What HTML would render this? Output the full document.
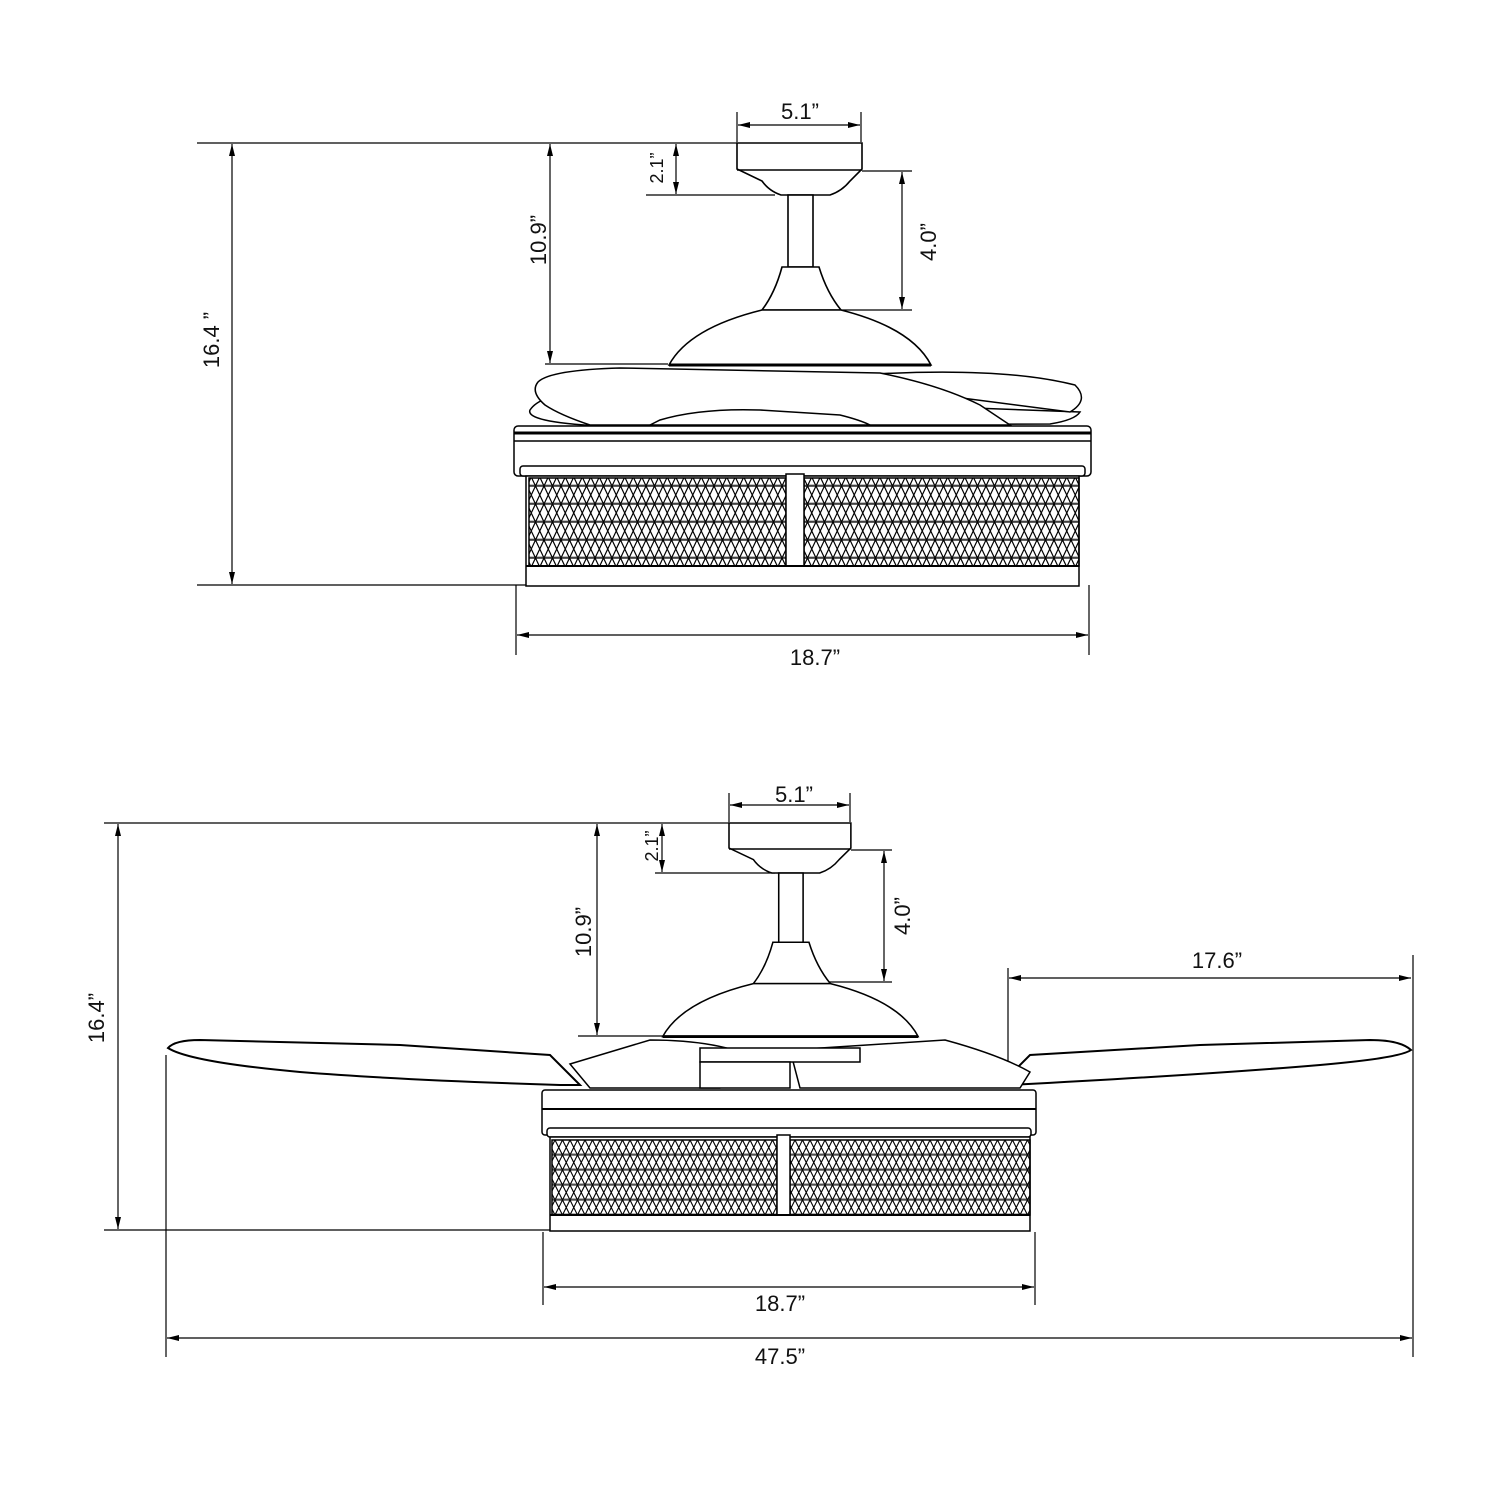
<!DOCTYPE html>
<html><head><meta charset="utf-8"><style>
html,body{margin:0;padding:0;background:#fff}
svg{display:block}
text{font-family:"Liberation Sans",Arial,sans-serif;fill:#111}
</style></head><body>
<svg width="1500" height="1500" viewBox="0 0 1500 1500" xmlns="http://www.w3.org/2000/svg">
<defs>
<marker id="a" viewBox="0 0 12 6" refX="12" refY="3" markerWidth="12" markerHeight="6" markerUnits="userSpaceOnUse" orient="auto-start-reverse"><path d="M0,0L12,3L0,6z" fill="#000"/></marker>
<pattern id="lt" width="17" height="18" patternUnits="userSpaceOnUse">
<path d="M0,18L8.5,0L17,18M0,0L8.5,18L17,0M0,0H17" stroke="#000" stroke-width="1.2" fill="none"/>
<path d="M0,17.2H17" stroke="#000" stroke-width="1"/>
</pattern>
<pattern id="lb" width="15" height="15" patternUnits="userSpaceOnUse">
<path d="M0,15L7.5,0L15,15M0,0L7.5,15L15,0M0,0H15" stroke="#000" stroke-width="1.1" fill="none"/>
<path d="M0,14.2H15" stroke="#000" stroke-width="1"/>
</pattern>
<g id="head" fill="#fff" stroke="#000" stroke-width="1.6">
<path d="M0,0H125V26L113,38Q105,48 93,52H44Q32,48 25,38L0,26Z"/>
<line x1="0" y1="27" x2="125" y2="27"/>
<rect x="51" y="52" width="25" height="72"/>
<path d="M45,124H82Q90,150 104,167H25Q38,150 45,124Z"/>
<path d="M25,167H104Q175,185 194,222H-68Q-48,185 25,167Z"/>
<line x1="-68" y1="222" x2="194" y2="222" stroke-width="3"/>
</g>
</defs>

<g stroke="#000" stroke-width="1.2" fill="none">
<line x1="737" y1="112" x2="737" y2="142"/><line x1="861" y1="112" x2="861" y2="142"/>
<line x1="738" y1="125" x2="860" y2="125" marker-start="url(#a)" marker-end="url(#a)"/>
<line x1="197" y1="143" x2="737" y2="143"/>
<line x1="232" y1="144" x2="232" y2="584" marker-start="url(#a)" marker-end="url(#a)"/>
<line x1="197" y1="585" x2="526" y2="585"/>
<line x1="550" y1="144" x2="550" y2="363" marker-start="url(#a)" marker-end="url(#a)"/>
<line x1="545" y1="364" x2="668" y2="364"/>
<line x1="676" y1="144" x2="676" y2="194" marker-start="url(#a)" marker-end="url(#a)"/>
<line x1="646" y1="195" x2="775" y2="195"/>
<line x1="862" y1="171" x2="912" y2="171"/>
<line x1="902" y1="172" x2="902" y2="309" marker-start="url(#a)" marker-end="url(#a)"/>
<line x1="835" y1="310" x2="912" y2="310"/>
<line x1="516" y1="585" x2="516" y2="655"/><line x1="1089" y1="585" x2="1089" y2="655"/>
<line x1="517" y1="635" x2="1088" y2="635" marker-start="url(#a)" marker-end="url(#a)"/>
</g>
<use href="#head" x="737" y="143"/>
<g stroke="#000" stroke-width="1.5" fill="#fff">
<path d="M530,410Q540,395 580,392L700,400Q900,405 1080,412Q1075,420 1050,424L600,426Q525,422 530,410Z"/>
<path d="M858,375Q1000,366 1075,385Q1090,400 1070,412Q980,400 900,390Q860,383 858,375Z"/>
<path d="M538,382Q550,370 620,368L880,373Q940,385 980,405L1010,425H590Q560,415 545,405Q530,392 538,382Z"/>
<path d="M660,420Q700,408 760,410L840,415Q860,420 870,425H650Z"/>
<rect x="514" y="426" width="577" height="50" rx="4"/>
<line x1="514" y1="433" x2="1091" y2="433" stroke-width="3"/>
<line x1="514" y1="441" x2="1091" y2="441"/>
<rect x="520" y="466" width="565" height="10" rx="3"/>
<rect x="526" y="476" width="553" height="110"/>
<rect x="529" y="478" width="257" height="88" fill="url(#lt)"/>
<rect x="804" y="478" width="275" height="88" fill="url(#lt)"/>
<rect x="786" y="474" width="18" height="92"/>
<line x1="526" y1="566" x2="1079" y2="566" stroke-width="2"/>
</g>

<g stroke="#000" stroke-width="1.2" fill="none">
<line x1="729" y1="793" x2="729" y2="822"/><line x1="850" y1="793" x2="850" y2="822"/>
<line x1="730" y1="805" x2="849" y2="805" marker-start="url(#a)" marker-end="url(#a)"/>
<line x1="104" y1="823" x2="729" y2="823"/>
<line x1="118" y1="824" x2="118" y2="1229" marker-start="url(#a)" marker-end="url(#a)"/>
<line x1="104" y1="1230" x2="552" y2="1230"/>
<line x1="597" y1="824" x2="597" y2="1035" marker-start="url(#a)" marker-end="url(#a)"/>
<line x1="578" y1="1036" x2="666" y2="1036"/>
<line x1="662" y1="824" x2="662" y2="872" marker-start="url(#a)" marker-end="url(#a)"/>
<line x1="655" y1="873" x2="775" y2="873"/>
<line x1="851" y1="850" x2="892" y2="850"/>
<line x1="884" y1="851" x2="884" y2="981" marker-start="url(#a)" marker-end="url(#a)"/>
<line x1="825" y1="982" x2="892" y2="982"/>
<line x1="1008" y1="968" x2="1008" y2="1062"/><line x1="1413" y1="955" x2="1413" y2="1357"/>
<line x1="1009" y1="978" x2="1411" y2="978" marker-start="url(#a)" marker-end="url(#a)"/>
<line x1="166" y1="1055" x2="166" y2="1357"/>
<line x1="167" y1="1338" x2="1412" y2="1338" marker-start="url(#a)" marker-end="url(#a)"/>
<line x1="543" y1="1232" x2="543" y2="1305"/><line x1="1035" y1="1232" x2="1035" y2="1305"/>
<line x1="544" y1="1287" x2="1034" y2="1287" marker-start="url(#a)" marker-end="url(#a)"/>
</g>
<use href="#head" transform="translate(729,823) scale(0.975,0.962)"/>
<g stroke="#000" stroke-width="1.5" fill="#fff">
<path d="M560,1085Q400,1080 300,1072Q190,1062 168,1048Q175,1040 200,1040L400,1045Q500,1052 550,1055L580,1085Z" stroke-width="2"/>
<path d="M570,1064L650,1040Q720,1040 760,1060L720,1088H590Z"/>
<path d="M1010,1085Q1200,1075 1320,1065Q1400,1058 1411,1050Q1400,1040 1370,1040L1200,1045Q1080,1052 1030,1055L1015,1070Z" stroke-width="2"/>
<path d="M790,1050L945,1040Q1000,1055 1030,1072L1020,1088H800Z"/>
<path d="M700,1048H860V1062H700Z"/>
<path d="M700,1062H790V1088H700Z"/>
<rect x="542" y="1090" width="494" height="45" rx="3"/>
<line x1="542" y1="1109" x2="1036" y2="1109" stroke-width="2"/>
<rect x="547" y="1128" width="484" height="9" rx="3"/>
<rect x="550" y="1137" width="480" height="94"/>
<rect x="552" y="1140" width="225" height="75" fill="url(#lb)"/>
<rect x="790" y="1140" width="240" height="75" fill="url(#lb)"/>
<rect x="777" y="1135" width="13" height="80"/>
<line x1="550" y1="1215" x2="1030" y2="1215" stroke-width="2"/>
</g>

<g font-size="22">
<text x="800" y="119" text-anchor="middle">5.1”</text>
<text x="815" y="665" text-anchor="middle">18.7”</text>
<text transform="translate(219,340) rotate(-90)" text-anchor="middle">16.4 ”</text>
<text transform="translate(546,240) rotate(-90)" text-anchor="middle">10.9”</text>
<text transform="translate(663,168) rotate(-90)" text-anchor="middle" font-size="18">2.1”</text>
<text transform="translate(936,242) rotate(-90)" text-anchor="middle">4.0”</text>
<text x="794" y="802" text-anchor="middle">5.1”</text>
<text x="1217" y="968" text-anchor="middle">17.6”</text>
<text x="780" y="1311" text-anchor="middle">18.7”</text>
<text x="780" y="1364" text-anchor="middle">47.5”</text>
<text transform="translate(104,1018) rotate(-90)" text-anchor="middle">16.4”</text>
<text transform="translate(591,932) rotate(-90)" text-anchor="middle">10.9”</text>
<text transform="translate(658,846) rotate(-90)" text-anchor="middle" font-size="18">2.1”</text>
<text transform="translate(910,916) rotate(-90)" text-anchor="middle">4.0”</text>
</g>
</svg>
</body></html>
